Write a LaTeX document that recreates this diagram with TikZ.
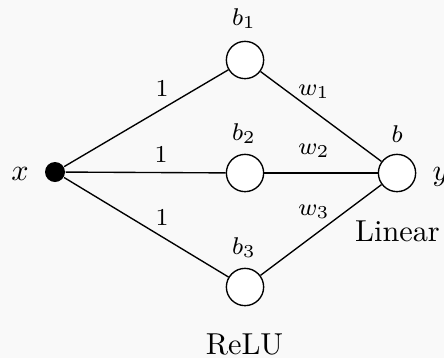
\documentclass[tikz,border=0pt]{standalone}
\begin{document}
\begin{tikzpicture}[x=0.33pt,y=-0.33pt,
  neuron/.style={circle,draw,line width=0.45pt,minimum size=12.3pt,inner sep=0pt,fill=white},
  inputdot/.style={circle,fill=black,minimum size=6.6pt,inner sep=0pt},
  wlabel/.style={anchor=base,font=\footnotesize,inner sep=0pt},
  tlabel/.style={anchor=base,inner sep=0pt},
  edge/.style={line width=0.45pt}]
\fill[black!2.5] (0,0) rectangle (444,358);
\useasboundingbox (0,0) rectangle (444,358);
\node[inputdot] (x) at (55,172) {};
\node[neuron] (h1) at (245,60) {};
\node[neuron] (h2) at (245,173) {};
\node[neuron] (h3) at (245,287) {};
\node[neuron] (o) at (397,173) {};
\draw[edge] (x) -- (h1);
\draw[edge] (x) -- (h2);
\draw[edge] (x) -- (h3);
\draw[edge] (h1) -- (o);
\draw[edge] (h2) -- (o);
\draw[edge] (h3) -- (o);
\node[tlabel] (lx) at (20,180) {$x$};
\node[tlabel,anchor=base west] (ly) at (432,180) {$y$};
\node[wlabel] (lb1) at (244,25) {$b_1$};
\node[wlabel] (lb2) at (244,140) {$b_2$};
\node[wlabel] (lb3) at (244,254) {$b_3$};
\node[wlabel] (lb) at (397,142) {$b$};
\node[wlabel] (l1a) at (162,96) {$1$};
\node[wlabel] (l1b) at (161,162) {$1$};
\node[wlabel] (l1c) at (162,225) {$1$};
\node[wlabel] (lw1) at (314,95) {$w_1$};
\node[wlabel] (lw2) at (314,154) {$w_2$};
\node[wlabel] (lw3) at (314,215) {$w_3$};
\node[tlabel] (lin) at (397.5,241) {Linear};
\node[tlabel] (relu) at (244.5,354) {ReLU};
\end{tikzpicture}
\end{document}
